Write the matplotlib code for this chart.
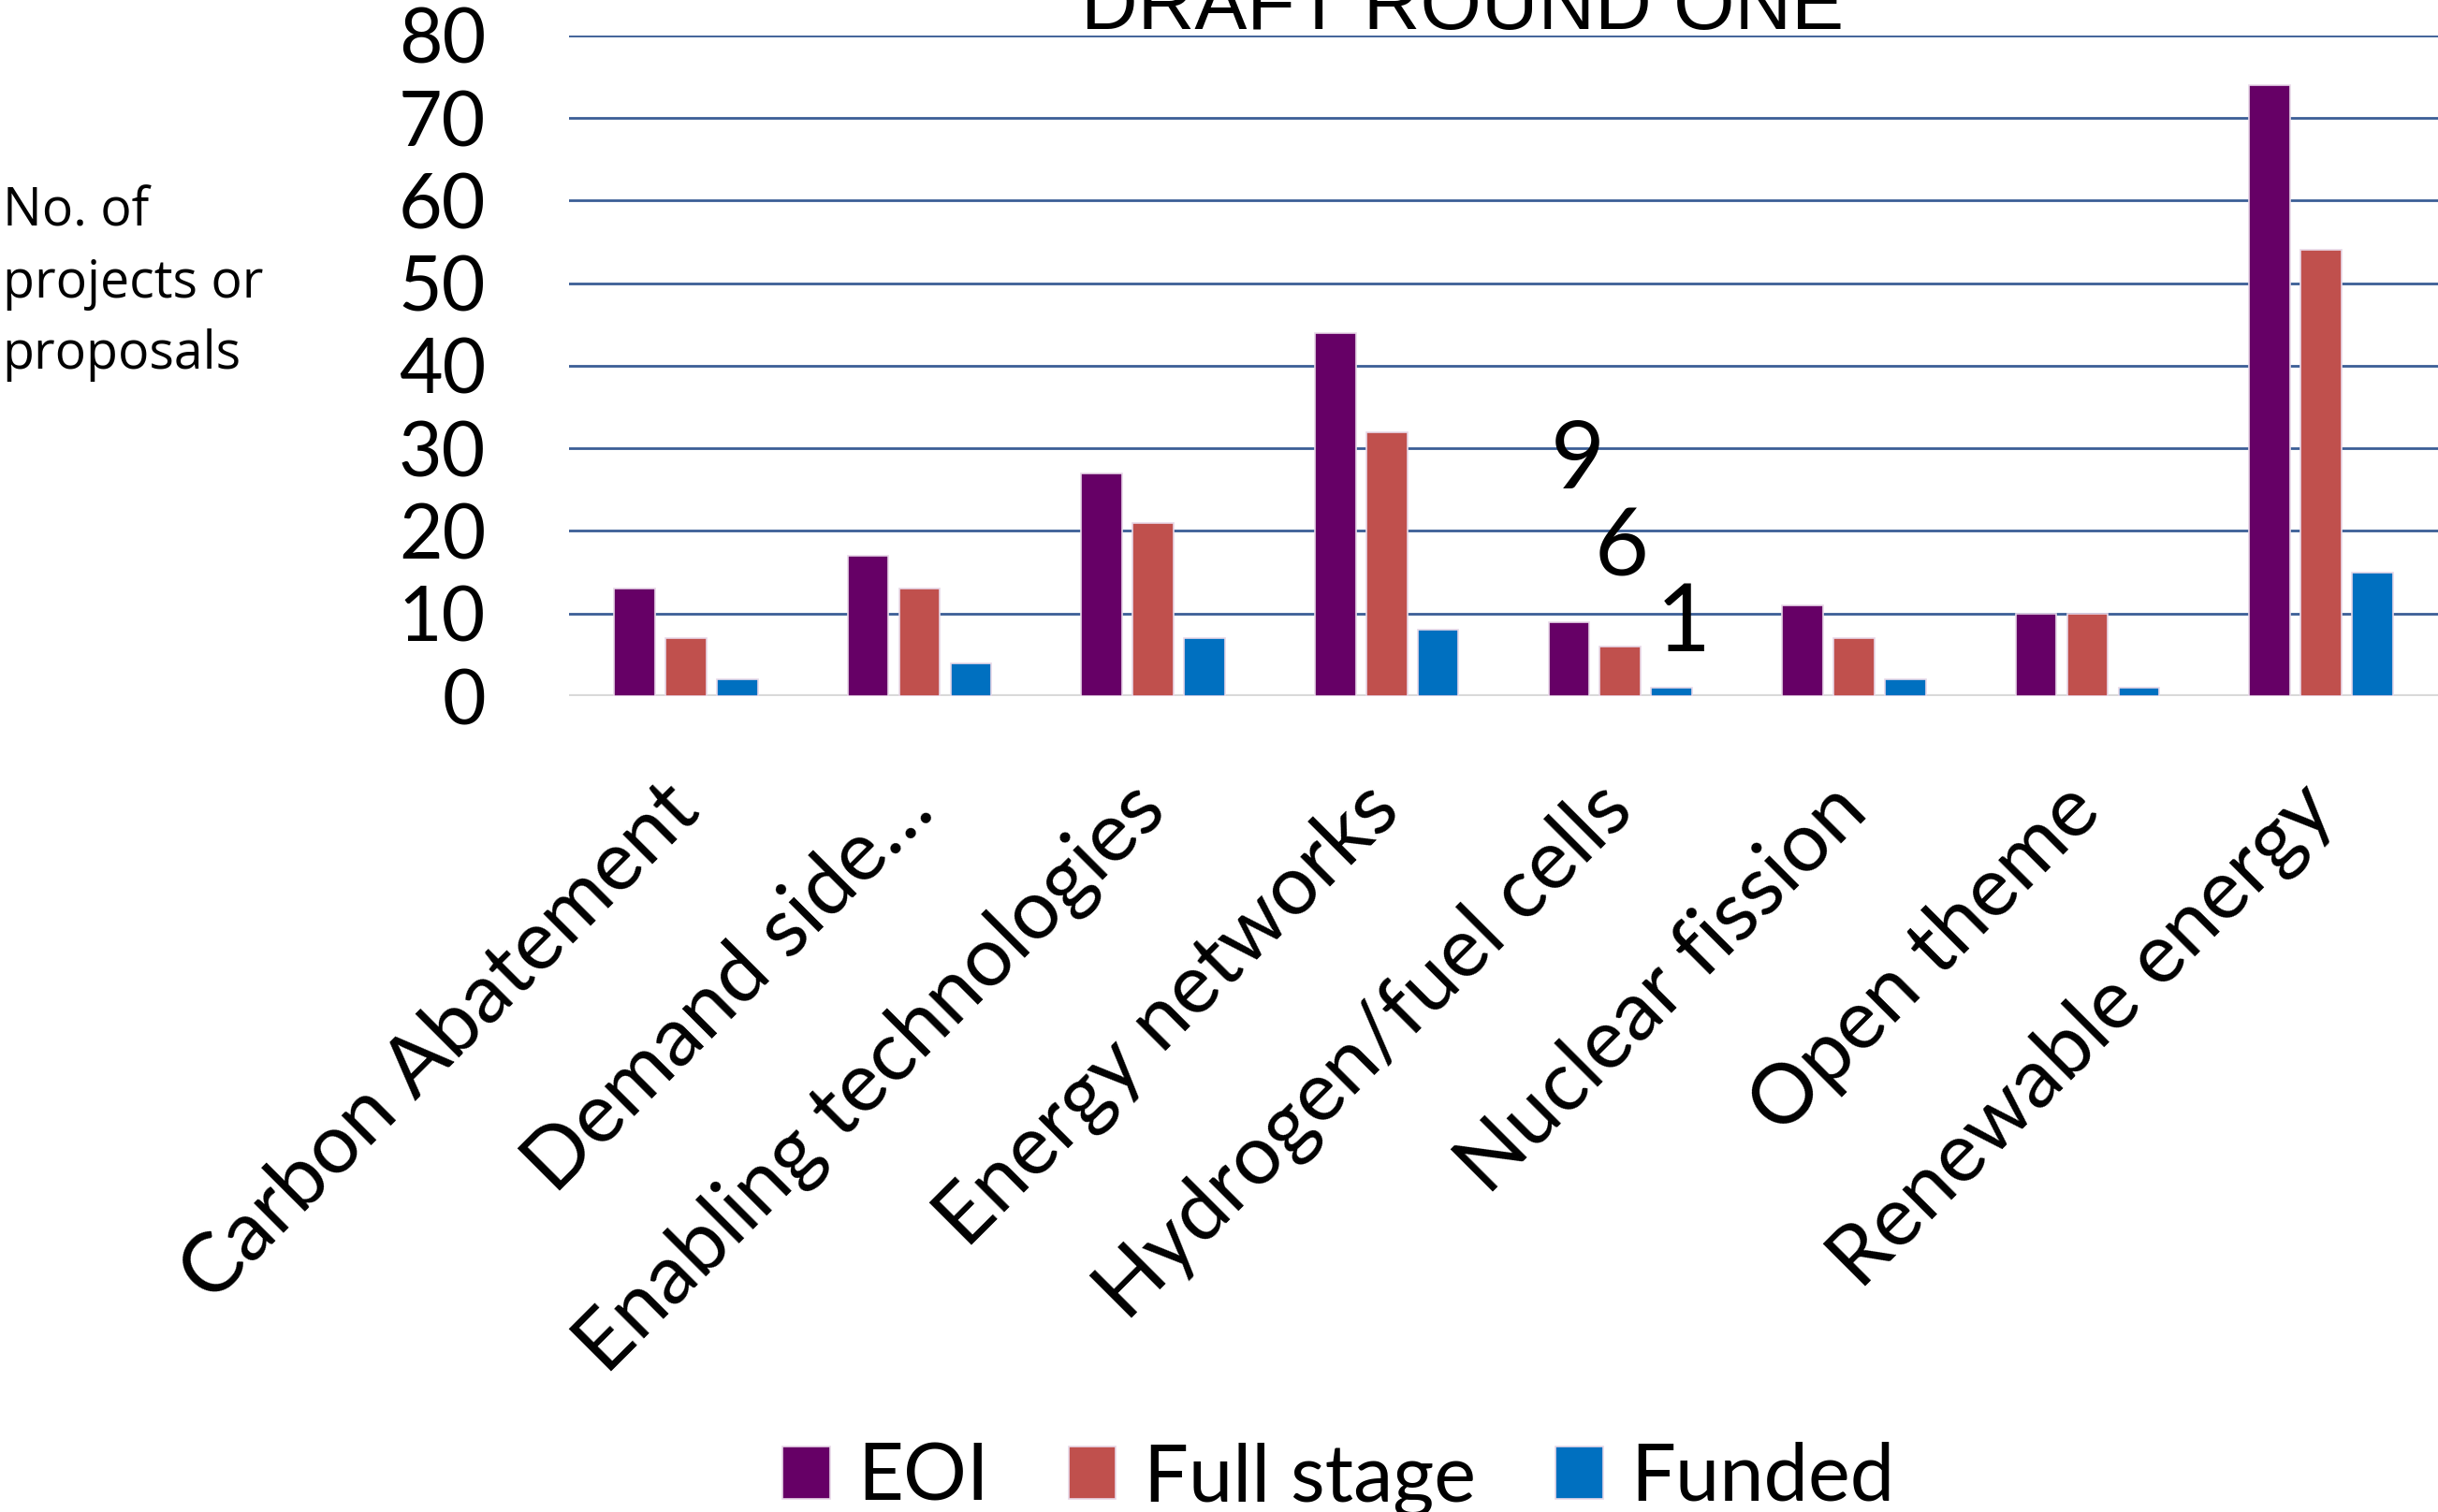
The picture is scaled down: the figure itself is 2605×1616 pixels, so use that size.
import matplotlib
matplotlib.use('Agg')
import matplotlib.pyplot as plt
import numpy as np

# chart data
categories = ['Carbon Abatement', 'Demand side\u2026', 'Enabling technologies',
              'Energy networks', 'Hydrogen/fuel cells', 'Nuclear fission',
              'Open theme', 'Renewable energy']
series_names = ['EOI', 'Full stage', 'Funded']
eoi = [13, 17, 27, 44, 9, 11, 10, 74]
full_stage = [7, 13, 21, 32, 6, 7, 10, 54]
funded = [2, 4, 7, 8, 1, 2, 1, 15]
yticks = [0, 10, 20, 30, 40, 50, 60, 70, 80]

colors = ['#660066', '#C0504D', '#0070C0']
font = ['Lato', 'DejaVu Sans']
plt.rcParams['font.family'] = font

fig = plt.figure(figsize=(26.05, 16.16), dpi=100)
ax = fig.add_axes([0.2334, 0.5396, 0.7666, 0.4369])

x = np.arange(len(categories))
w = 0.175
step = 0.22
for i, (vals, name) in enumerate(zip([eoi, full_stage, funded], series_names)):
    ax.bar(x + (i - 1) * step, vals, w, color=colors[i], label=name,
           edgecolor='#e8d8e8', linewidth=1.2, zorder=3)

# data labels only shown on the hydrogen group
hi = categories.index('Hydrogen/fuel cells')
label_offsets = [(7, 123), (1, 75), (9, 49)]
for i, vals in enumerate([eoi, full_stage, funded]):
    ax.annotate(str(vals[hi]), (x[hi] + (i - 1) * step, vals[hi]),
                xytext=label_offsets[i], textcoords='offset points',
                ha='center', va='center', fontsize=72)

ax.set_xlim(-0.5, len(categories) - 0.5)
ax.set_ylim(0, 80)
ax.set_yticks(yticks)
ax.set_yticklabels([str(t) for t in yticks], fontsize=58)
ax.yaxis.grid(True, color='#3B5E96', linewidth=2, zorder=0)
ax.axhline(0, color='#d9d9d9', linewidth=3, zorder=2)
for s in ax.spines.values():
    s.set_visible(False)
ax.tick_params(axis='y', length=0, pad=64)
ax.tick_params(axis='x', length=0, pad=78)
ax.set_xticks(x)
ax.set_xticklabels(categories, rotation=45, ha='right', va='center',
                   rotation_mode='anchor', fontsize=64)

fig.text(0.6, 0.981, 'DRAFT ROUND ONE', ha='center', va='baseline',
         fontsize=60.5, family=['Liberation Sans', 'DejaVu Sans'])
fig.text(0.001, 0.877, 'No. of\nprojects or\nproposals', ha='left', va='top',
         fontsize=40, family=['Open Sans', 'DejaVu Sans'], linespacing=1.45)

fig.legend(loc='lower center', bbox_to_anchor=(0.549, -0.05), ncol=3,
           frameon=False, fontsize=61, handlelength=0.6, handleheight=0.65,
           handletextpad=0.35, columnspacing=1.0)

fig.savefig('out.png', dpi=100)
